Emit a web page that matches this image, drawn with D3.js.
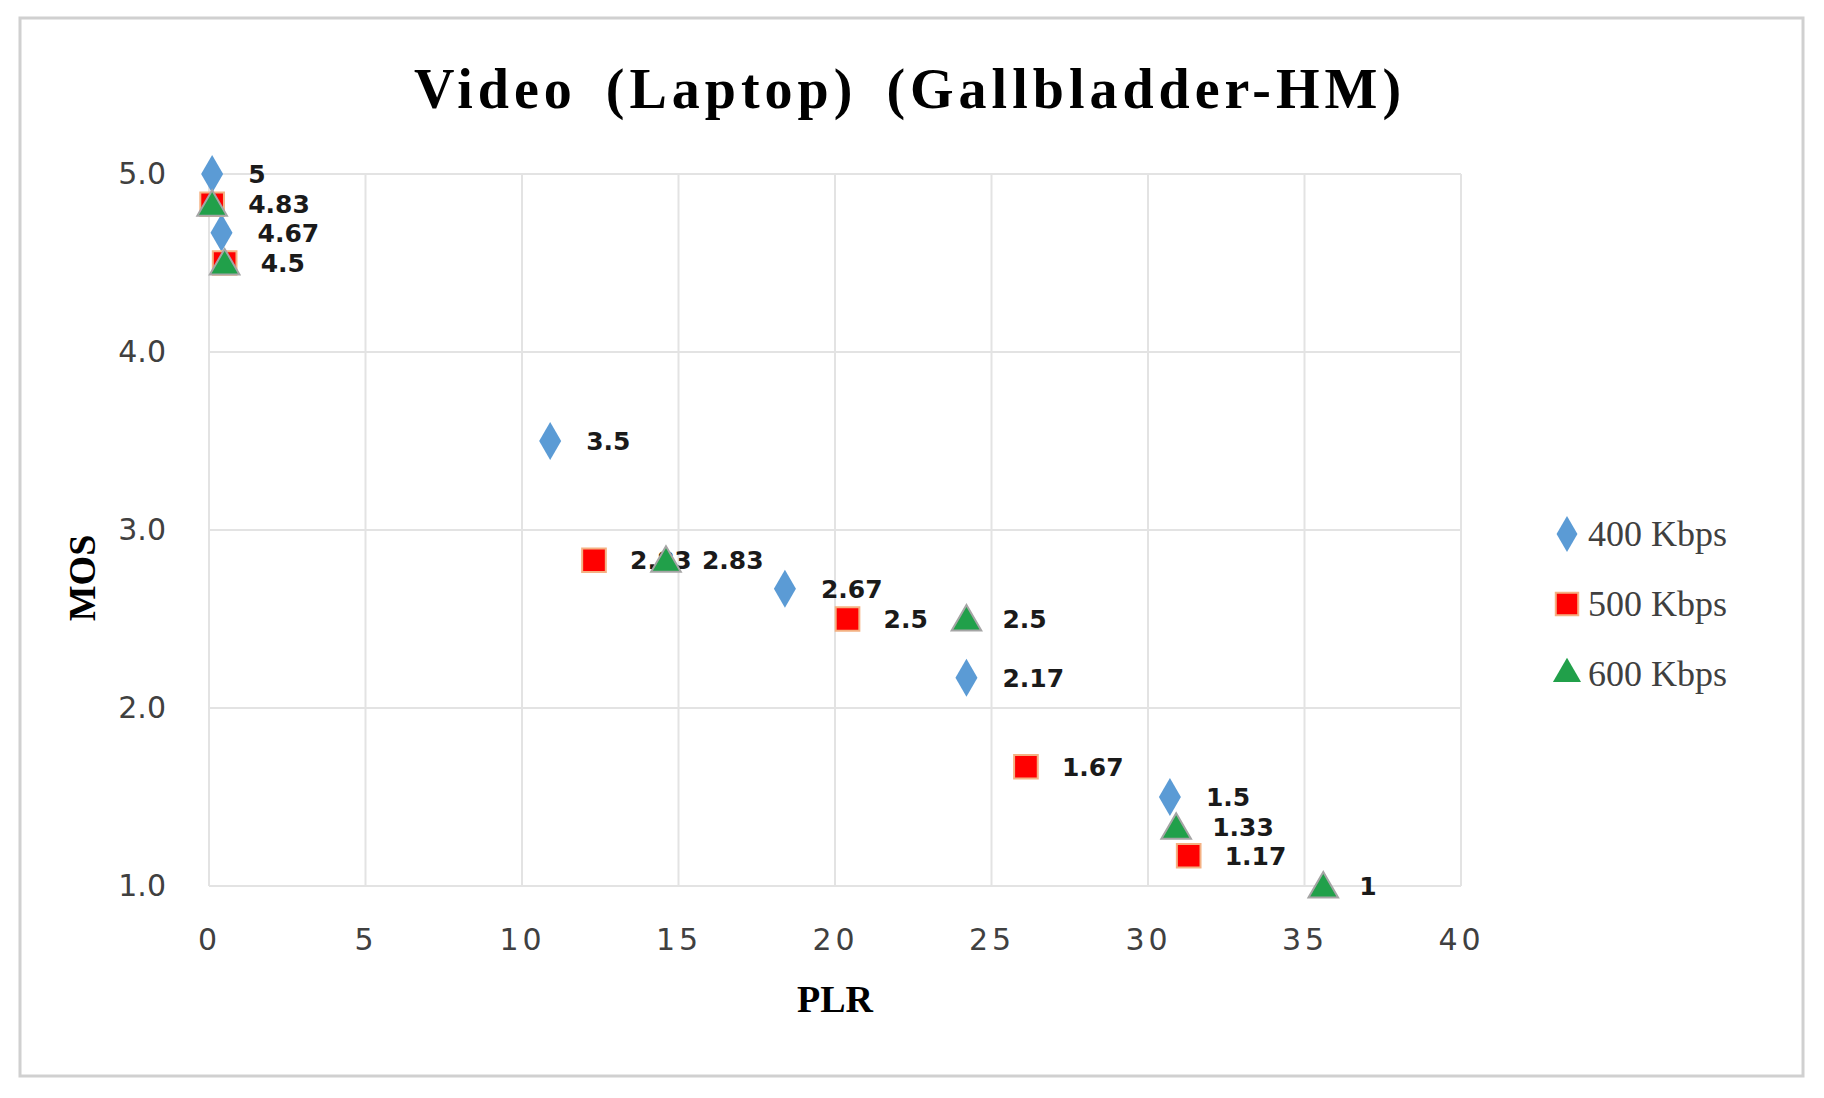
<!DOCTYPE html><html><head><meta charset="utf-8"><script src="https://cdn.jsdelivr.net/npm/d3@7"></script>
<style>body{margin:0;background:#fff}</style></head><body><svg id="c" width="1824" height="1098"></svg><script>
const xTicks=[0,5,10,15,20,25,30,35,40];
const yTicks=[1,2,3,4,5];
const seriesNames=["400 Kbps","500 Kbps","600 Kbps"];
const colors=["#5b9bd5","#ff0000","#21a04a"];
const plr400=[0.1,0.4,10.9,18.4,24.2,30.7], mos400=[5,4.67,3.5,2.67,2.17,1.5];
const plr500=[0.1,0.5,12.3,20.4,26.1,31.3], mos500=[4.83,4.5,2.83,2.5,1.67,1.17];
const plr600=[0.1,0.5,14.6,24.2,30.9,35.6], mos600=[4.83,4.5,2.83,2.5,1.33,1];
const series=[[plr400,mos400],[plr500,mos500],[plr600,mos600]];
const svg=d3.select("#c");
svg.append("rect").attr("x",20).attr("y",18).attr("width",1783).attr("height",1058).attr("fill","#fff").attr("stroke","#d0d0d0").attr("stroke-width",3);
const x=d3.scaleLinear().domain([0,40]).range([209,1461]);
const y=d3.scaleLinear().domain([1,5]).range([886,174]);
const g=svg.append("g");
xTicks.forEach(t=>g.append("line").attr("x1",x(t)).attr("x2",x(t)).attr("y1",y(5)).attr("y2",y(1)).attr("stroke","#e3e3e3").attr("stroke-width",2));
yTicks.forEach(t=>g.append("line").attr("x1",x(0)).attr("x2",x(40)).attr("y1",y(t)).attr("y2",y(t)).attr("stroke","#e3e3e3").attr("stroke-width",2));
const xa=svg.append("g").attr("transform","translate(0,"+(y(1)+40)+")").call(d3.axisBottom(x).tickValues(xTicks).tickSize(0));
xa.select(".domain").remove();
xa.selectAll("text").attr("font-family","DejaVu Sans").attr("font-size",30).attr("fill","#404040").attr("letter-spacing",4);
const ya=svg.append("g").attr("transform","translate("+(x(0)-40)+",0)").call(d3.axisLeft(y).tickValues(yTicks).tickSize(0));
ya.select(".domain").remove();
ya.selectAll("text").attr("font-family","DejaVu Sans").attr("font-size",30).attr("fill","#404040");
svg.append("text").attr("x",910).attr("y",108).attr("text-anchor","middle").attr("font-family","Liberation Serif").attr("font-weight","bold").attr("font-size",56).attr("letter-spacing",5).attr("word-spacing",10).text("Video (Laptop) (Gallbladder-HM)");
svg.append("text").attr("x",835).attr("y",1012).attr("text-anchor","middle").attr("font-family","Liberation Serif").attr("font-weight","bold").attr("font-size",38).text("PLR");
svg.append("text").attr("transform","translate(95,578) rotate(-90)").attr("text-anchor","middle").attr("font-family","Liberation Serif").attr("font-weight","bold").attr("font-size",38).text("MOS");
const sym=[d3.symbolDiamond,d3.symbolSquare,d3.symbolTriangle];
const sizes=[420,560,380];
series.forEach(([xs,ys],i)=>{
  const gg=svg.append("g");
  xs.forEach((v,j)=>{
    gg.append("path").attr("d",d3.symbol(sym[i],sizes[i])()).attr("transform","translate("+x(v)+","+(y(ys[j])+(i==2?3:0))+")")
      .attr("fill",colors[i]).attr("stroke",i==1?"#f4b183":(i==2?"#a5a5a5":"none")).attr("stroke-width",2);
    if(!(i==1&&j<2))
    gg.append("text").attr("x",x(v)+(i==1&&j==2?36:36)).attr("y",y(ys[j])+9).attr("font-family","DejaVu Sans").attr("font-weight","bold").attr("font-size",25).attr("fill","#1a1a1a").text(ys[j]);
  });
});
seriesNames.forEach((n,i)=>{
  const ly=534+i*70;
  svg.append("path").attr("d",d3.symbol(sym[i],sizes[i]*0.9)()).attr("transform","translate(1567,"+ly+")").attr("fill",colors[i]).attr("stroke",i==1?"#f4b183":"none").attr("stroke-width",2);
  svg.append("text").attr("x",1588).attr("y",ly+12).attr("font-family","Liberation Serif").attr("font-size",36).attr("fill","#404040").text(n);
});
</script></body></html>
